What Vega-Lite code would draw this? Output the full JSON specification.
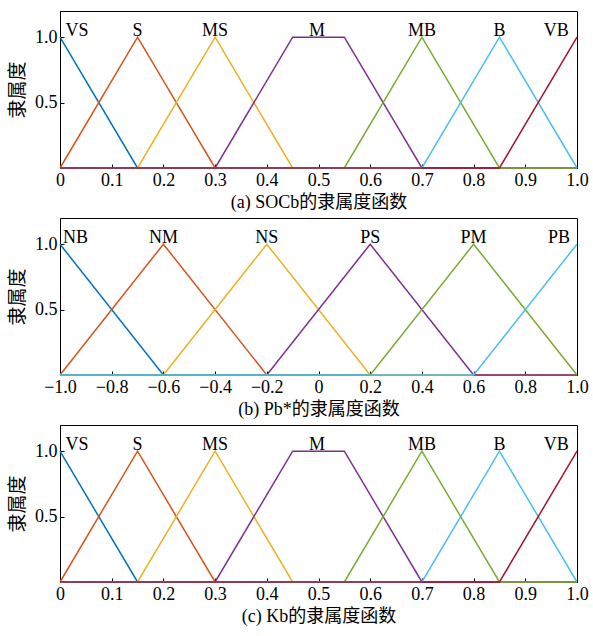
{
  "$schema": "https://vega.github.io/schema/vega-lite/v6.json",
  "background": "white",
  "padding": {"left": 8, "top": 10, "right": 10, "bottom": 5},
  "spacing": 5,
  "config": {
    "view": {"stroke": "black", "strokeWidth": 1},
    "font": "Liberation Serif",
    "axis": {
      "grid": false,
      "domainColor": "black",
      "tickColor": "black",
      "tickSize": -4,
      "labelColor": "black",
      "labelFont": "Liberation Serif",
      "labelFontSize": 18,
      "labelFlush": false,
      "labelOverlap": false,
      "labelBound": false,
      "titleColor": "black",
      "titleFont": "Liberation Serif, Noto Sans CJK SC",
      "titleFontWeight": "normal",
      "titleFontSize": 18
    }
  },
  "datasets": {
    "soc": [
      {"set": "VS", "x": 0, "y": 1}, {"set": "VS", "x": 0.15, "y": 0}, {"set": "VS", "x": 1, "y": 0},
      {"set": "S", "x": 0, "y": 0}, {"set": "S", "x": 0.15, "y": 1}, {"set": "S", "x": 0.3, "y": 0}, {"set": "S", "x": 1, "y": 0},
      {"set": "MS", "x": 0, "y": 0}, {"set": "MS", "x": 0.15, "y": 0}, {"set": "MS", "x": 0.3, "y": 1}, {"set": "MS", "x": 0.45, "y": 0}, {"set": "MS", "x": 1, "y": 0},
      {"set": "M", "x": 0, "y": 0}, {"set": "M", "x": 0.3, "y": 0}, {"set": "M", "x": 0.45, "y": 1}, {"set": "M", "x": 0.55, "y": 1}, {"set": "M", "x": 0.7, "y": 0}, {"set": "M", "x": 1, "y": 0},
      {"set": "MB", "x": 0, "y": 0}, {"set": "MB", "x": 0.55, "y": 0}, {"set": "MB", "x": 0.7, "y": 1}, {"set": "MB", "x": 0.85, "y": 0}, {"set": "MB", "x": 1, "y": 0},
      {"set": "B", "x": 0, "y": 0}, {"set": "B", "x": 0.7, "y": 0}, {"set": "B", "x": 0.85, "y": 1}, {"set": "B", "x": 1, "y": 0},
      {"set": "VB", "x": 0, "y": 0}, {"set": "VB", "x": 0.85, "y": 0}, {"set": "VB", "x": 1, "y": 1}
    ],
    "socLabels": [
      {"set": "VS", "x": 0.033}, {"set": "S", "x": 0.15}, {"set": "MS", "x": 0.3}, {"set": "M", "x": 0.497},
      {"set": "MB", "x": 0.7}, {"set": "B", "x": 0.85}, {"set": "VB", "x": 0.96}
    ],
    "pb": [
      {"set": "NB", "x": -1, "y": 1}, {"set": "NB", "x": -0.6, "y": 0}, {"set": "NB", "x": 1, "y": 0},
      {"set": "NM", "x": -1, "y": 0}, {"set": "NM", "x": -0.6, "y": 1}, {"set": "NM", "x": -0.2, "y": 0}, {"set": "NM", "x": 1, "y": 0},
      {"set": "NS", "x": -1, "y": 0}, {"set": "NS", "x": -0.6, "y": 0}, {"set": "NS", "x": -0.2, "y": 1}, {"set": "NS", "x": 0.2, "y": 0}, {"set": "NS", "x": 1, "y": 0},
      {"set": "PS", "x": -1, "y": 0}, {"set": "PS", "x": -0.2, "y": 0}, {"set": "PS", "x": 0.2, "y": 1}, {"set": "PS", "x": 0.6, "y": 0}, {"set": "PS", "x": 1, "y": 0},
      {"set": "PM", "x": -1, "y": 0}, {"set": "PM", "x": 0.2, "y": 0}, {"set": "PM", "x": 0.6, "y": 1}, {"set": "PM", "x": 1, "y": 0},
      {"set": "PB", "x": -1, "y": 0}, {"set": "PB", "x": 0.6, "y": 0}, {"set": "PB", "x": 1, "y": 1}
    ],
    "pbLabels": [
      {"set": "NB", "x": -0.94}, {"set": "NM", "x": -0.6}, {"set": "NS", "x": -0.2}, {"set": "PS", "x": 0.2},
      {"set": "PM", "x": 0.6}, {"set": "PB", "x": 0.93}
    ]
  },
  "vconcat": [
    {
      "width": 517, "height": 157,
      "layer": [
        {
          "data": {"name": "soc"},
          "mark": {"type": "line", "strokeWidth": 1.5, "clip": false},
          "encoding": {
            "x": {"field": "x", "type": "quantitative", "scale": {"domain": [0, 1], "nice": false},
              "axis": {"values": [0, 0.1, 0.2, 0.3, 0.4, 0.5, 0.6, 0.7, 0.8, 0.9, 1.0], "labelExpr": "datum.value == 0 ? '0' : format(datum.value, '.1f')", "title": "(a) SOCb的隶属度函数", "labelPadding": 7, "titlePadding": 4}},
            "y": {"field": "y", "type": "quantitative", "scale": {"domain": [0, 1.2], "nice": false},
              "axis": {"values": [0.5, 1.0], "format": ".1f", "title": "隶属度", "titleFontSize": 19, "labelPadding": 7, "titlePadding": 7}},
            "color": {"field": "set", "type": "nominal", "legend": null,
              "scale": {"domain": ["VS", "S", "MS", "M", "MB", "B", "VB"], "range": ["#0072BD", "#D95319", "#EDB120", "#7E2F8E", "#77AC30", "#4DBEEE", "#A2142F"]}}
          }
        },
        {
          "data": {"name": "socLabels"},
          "mark": {"type": "text", "font": "Liberation Serif", "fontSize": 18, "color": "black", "baseline": "alphabetic", "align": "center", "dy": -1},
          "encoding": {
            "x": {"field": "x", "type": "quantitative"},
            "y": {"datum": 1, "type": "quantitative"},
            "text": {"field": "set"}
          }
        }
      ]
    },
    {
      "width": 517, "height": 157,
      "layer": [
        {
          "data": {"name": "pb"},
          "mark": {"type": "line", "strokeWidth": 1.5, "clip": false},
          "encoding": {
            "x": {"field": "x", "type": "quantitative", "scale": {"domain": [-1, 1], "nice": false},
              "axis": {"values": [-1, -0.8, -0.6, -0.4, -0.2, 0, 0.2, 0.4, 0.6, 0.8, 1.0], "labelExpr": "datum.value == 0 ? '0' : format(datum.value, '.1f')", "title": "(b) Pb*的隶属度函数", "labelPadding": 7, "titlePadding": 4}},
            "y": {"field": "y", "type": "quantitative", "scale": {"domain": [0, 1.2], "nice": false},
              "axis": {"values": [0.5, 1.0], "format": ".1f", "title": "隶属度", "titleFontSize": 19, "labelPadding": 7, "titlePadding": 7}},
            "color": {"field": "set", "type": "nominal", "legend": null,
              "scale": {"domain": ["NB", "NM", "NS", "PS", "PM", "PB"], "range": ["#0072BD", "#D95319", "#EDB120", "#7E2F8E", "#77AC30", "#4DBEEE"]}}
          }
        },
        {
          "data": {"name": "pbLabels"},
          "mark": {"type": "text", "font": "Liberation Serif", "fontSize": 18, "color": "black", "baseline": "alphabetic", "align": "center", "dy": -1},
          "encoding": {
            "x": {"field": "x", "type": "quantitative"},
            "y": {"datum": 1, "type": "quantitative"},
            "text": {"field": "set"}
          }
        }
      ],
      "resolve": {"scale": {"color": "independent"}}
    },
    {
      "width": 517, "height": 157,
      "layer": [
        {
          "data": {"name": "soc"},
          "mark": {"type": "line", "strokeWidth": 1.5, "clip": false},
          "encoding": {
            "x": {"field": "x", "type": "quantitative", "scale": {"domain": [0, 1], "nice": false},
              "axis": {"values": [0, 0.1, 0.2, 0.3, 0.4, 0.5, 0.6, 0.7, 0.8, 0.9, 1.0], "labelExpr": "datum.value == 0 ? '0' : format(datum.value, '.1f')", "title": "(c) Kb的隶属度函数", "labelPadding": 7, "titlePadding": 4}},
            "y": {"field": "y", "type": "quantitative", "scale": {"domain": [0, 1.2], "nice": false},
              "axis": {"values": [0.5, 1.0], "format": ".1f", "title": "隶属度", "titleFontSize": 19, "labelPadding": 7, "titlePadding": 7}},
            "color": {"field": "set", "type": "nominal", "legend": null,
              "scale": {"domain": ["VS", "S", "MS", "M", "MB", "B", "VB"], "range": ["#0072BD", "#D95319", "#EDB120", "#7E2F8E", "#77AC30", "#4DBEEE", "#A2142F"]}}
          }
        },
        {
          "data": {"name": "socLabels"},
          "mark": {"type": "text", "font": "Liberation Serif", "fontSize": 18, "color": "black", "baseline": "alphabetic", "align": "center", "dy": -1},
          "encoding": {
            "x": {"field": "x", "type": "quantitative"},
            "y": {"datum": 1, "type": "quantitative"},
            "text": {"field": "set"}
          }
        }
      ]
    }
  ],
  "resolve": {"scale": {"color": "independent", "x": "independent", "y": "independent"}}
}
